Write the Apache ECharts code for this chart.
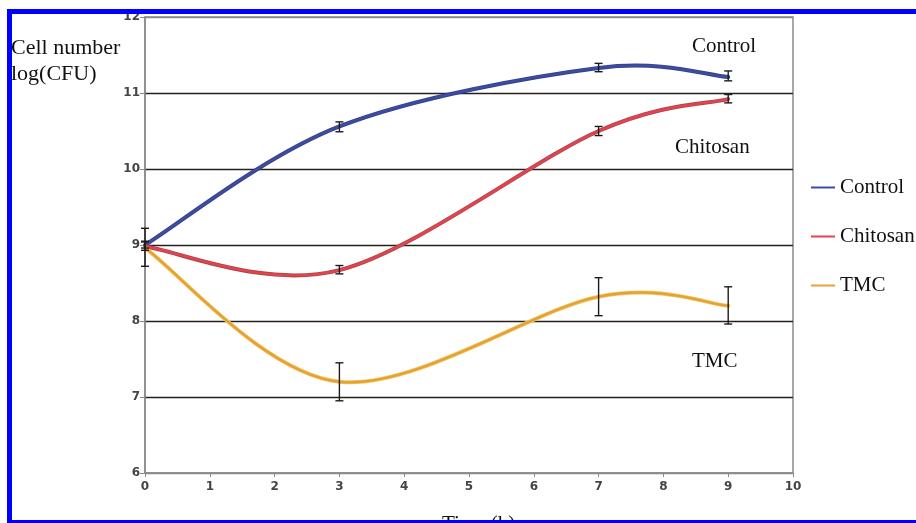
<!DOCTYPE html>
<html><head><meta charset="utf-8">
<script src="https://cdn.jsdelivr.net/npm/echarts@6/dist/echarts.min.js"></script>
<style>html,body{margin:0;padding:0;background:#fff}#c{width:916px;height:523px}</style>
</head><body><div id="c"></div>
<script>
// ---- data ----
const times = [0, 3, 7, 9];
const seriesNames = ['Control', 'Chitosan', 'TMC'];
const controlMean = [9.0, 10.56, 11.33, 11.21];
const chitosanMean = [8.98, 8.67, 10.5, 10.92];
const tmcMean = [8.96, 7.2, 8.32, 8.2];
const controlLow = [8.96, 10.49, 11.28, 11.16];
const controlHigh = [9.04, 10.62, 11.39, 11.29];
const chitosanLow = [8.93, 8.62, 10.44, 10.87];
const chitosanHigh = [9.05, 8.73, 10.56, 10.98];
const tmcLow = [8.72, 6.95, 8.07, 7.96];
const tmcHigh = [9.22, 7.45, 8.57, 8.45];
const xRange = [0, 10];
const yRange = [6, 12];

const colors = ['#3d4c9f', '#e3434f', '#e6a038'];
const edgeColors = ['#34418a', '#a8484c', '#f0c95a'];
const serif = '"Liberation Serif", "Times New Roman", serif';

const chart = echarts.init(document.getElementById('c'), null, {renderer: 'canvas'});

function pts(mean) { return times.map((t, i) => [t, mean[i]]); }
function errs(lo, hi) { return times.map((t, i) => [t, lo[i], hi[i]]); }

const means = [controlMean, chitosanMean, tmcMean];
const lows = [controlLow, chitosanLow, tmcLow];
const highs = [controlHigh, chitosanHigh, tmcHigh];

// Spreadsheet-style smoothed curve (Catmull-Rom bezier through data points)
function curveRender(k) {
  return function (params, api) {
    if (params.dataIndex !== 0) return null;
    const n = times.length;
    const P = times.map((t, j) => api.coord([t, means[k][j]]));
    let d = 'M' + P[0][0] + ' ' + P[0][1];
    for (let i = 0; i < n - 1; i++) {
      const p0 = P[Math.max(i - 1, 0)], p1 = P[i], p2 = P[i + 1], p3 = P[Math.min(i + 2, n - 1)];
      const c1 = [p1[0] + (p2[0] - p0[0]) / 6, p1[1] + (p2[1] - p0[1]) / 6];
      const c2 = [p2[0] - (p3[0] - p1[0]) / 6, p2[1] - (p3[1] - p1[1]) / 6];
      d += ' C' + c1[0] + ' ' + c1[1] + ' ' + c2[0] + ' ' + c2[1] + ' ' + p2[0] + ' ' + p2[1];
    }
    return {type: 'group', children: [
      {type: 'path', shape: {pathData: d}, style: {fill: null, stroke: edgeColors[k], lineWidth: 4, lineCap: 'round', lineJoin: 'round'}},
      {type: 'path', shape: {pathData: d}, style: {fill: null, stroke: colors[k], lineWidth: 2.4, lineCap: 'round', lineJoin: 'round'}}
    ]};
  };
}

function errRender(params, api) {
  const x = api.value(0);
  const lo = api.coord([x, api.value(1)]);
  const hi = api.coord([x, api.value(2)]);
  const w = 4;
  const st = {stroke: '#1e1a1a', lineWidth: 1.4};
  return {type: 'group', children: [
    {type: 'line', shape: {x1: lo[0], y1: lo[1], x2: hi[0], y2: hi[1]}, style: st},
    {type: 'line', shape: {x1: lo[0] - w, y1: lo[1], x2: lo[0] + w, y2: lo[1]}, style: st},
    {type: 'line', shape: {x1: hi[0] - w, y1: hi[1], x2: hi[0] + w, y2: hi[1]}, style: st}
  ]};
}

const series = [];
seriesNames.forEach((n, k) => {
  series.push({
    name: n, type: 'custom', renderItem: curveRender(k), data: pts(means[k]),
    encode: {x: 0, y: 1}, itemStyle: {color: colors[k]}, z: 3 + k, silent: true
  });
});
seriesNames.forEach((n, k) => {
  series.push({
    name: n + ' err', type: 'custom', renderItem: errRender,
    data: errs(lows[k], highs[k]), encode: {x: 0, y: [1, 2]}, z: 10, silent: true
  });
});

const legendTops = [172, 221, 270];
const legends = seriesNames.map((n, k) => ({
  data: [{name: n, icon: 'rect', itemStyle: {color: colors[k]}}], left: 806, top: legendTops[k], orient: 'vertical',
  itemWidth: 24, itemHeight: 2, itemGap: 10,
  textStyle: {fontFamily: serif, fontSize: 21, color: '#111'},
  selectedMode: false
}));

const gridColor = '#2a1f1f';
chart.setOption({
  animation: false,
  backgroundColor: '#fff',
  grid: {left: 145, right: 123, top: 17, bottom: 50, show: true, borderColor: '#8a8a8a', borderWidth: 1.5},
  legend: legends,
  xAxis: {
    type: 'value', min: xRange[0], max: xRange[1], interval: 1,
    axisLine: {lineStyle: {color: '#8a8a8a', width: 1.5}},
    axisTick: {show: true, length: 4, lineStyle: {color: '#8a8a8a'}},
    axisLabel: {color: '#444', fontSize: 12, fontWeight: 'bold', fontFamily: 'DejaVu Sans', margin: 8},
    splitLine: {show: false}
  },
  yAxis: {
    type: 'value', min: yRange[0], max: yRange[1], interval: 1,
    axisLine: {show: true, lineStyle: {color: '#8a8a8a', width: 1.5}},
    axisTick: {show: true, length: 5, lineStyle: {color: '#8a8a8a'}},
    axisLabel: {color: '#444', fontSize: 12, fontWeight: 'bold', fontFamily: 'DejaVu Sans', margin: 5},
    splitLine: {show: true, lineStyle: {color: ['#8a8a8a', gridColor, gridColor, gridColor, gridColor, gridColor, '#8a8a8a'], width: 1.4}}
  },
  series: series,
  graphic: [
    {type: 'text', left: 11, top: 35, style: {text: 'Cell number\nlog(CFU)', font: '22px ' + serif, fill: '#111', lineHeight: 26}},
    {type: 'text', left: 692, top: 36, style: {text: 'Control', font: '21px ' + serif, fill: '#111'}},
    {type: 'text', left: 675, top: 137, style: {text: 'Chitosan', font: '21px ' + serif, fill: '#111'}},
    {type: 'text', left: 692, top: 351, style: {text: 'TMC', font: '21px ' + serif, fill: '#111'}},
    {type: 'text', left: 442, top: 514, style: {text: 'Time (h)', font: '21px ' + serif, fill: '#111'}},
    {type: 'rect', shape: {x: 7, y: 9, width: 909, height: 5}, style: {fill: '#0000ff'}, z: 100},
    {type: 'rect', shape: {x: 7, y: 9, width: 5, height: 514}, style: {fill: '#0000ff'}, z: 100},
    {type: 'rect', shape: {x: 7, y: 520, width: 909, height: 3}, style: {fill: '#0000ff'}, z: 100}
  ]
});
</script></body></html>
